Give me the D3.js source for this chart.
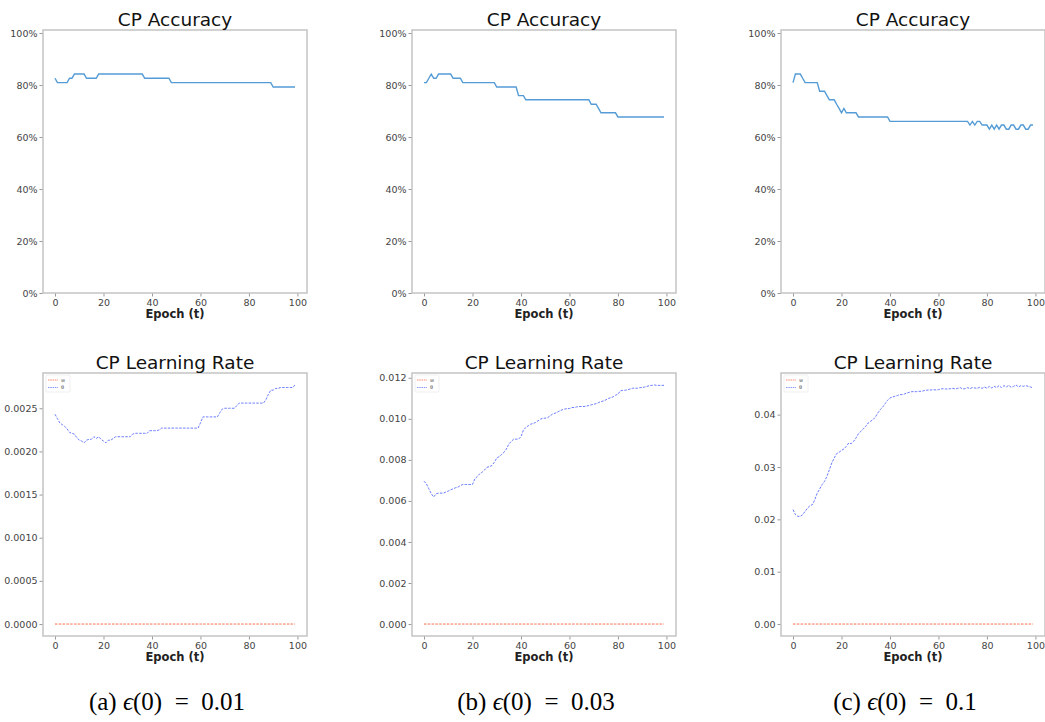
<!DOCTYPE html>
<html>
<head>
<meta charset="utf-8">
<script src="https://cdn.jsdelivr.net/npm/d3@7"></script>
<style>
  body { margin: 0; background: #fff; }
  svg { display: block; }
  .tick text { font-family: "DejaVu Sans", sans-serif; font-size: 9.5px; fill: #444; }
  .tick line { stroke: #999; }
  .domain { display: none; }
</style>
</head>
<body>
<svg id="chart" width="1045" height="722"></svg>
<script>
// epochs 0..99
const epochs = d3.range(100);

// CP accuracy per panel (fraction)
const accA = [0.826,0.809,0.809,0.809,0.809,0.809,0.826,0.826,0.842,0.842,0.842,0.842,0.842,0.826,0.826,0.826,0.826,0.826,0.842,0.842,
  0.842,0.842,0.842,0.842,0.842,0.842,0.842,0.842,0.842,0.842,0.842,0.842,0.842,0.842,0.842,0.842,0.842,0.826,0.826,0.826,
  0.826,0.826,0.826,0.826,0.826,0.826,0.826,0.826,0.809,0.809,0.809,0.809,0.809,0.809,0.809,0.809,0.809,0.809,0.809,0.809,
  0.809,0.809,0.809,0.809,0.809,0.809,0.809,0.809,0.809,0.809,0.809,0.809,0.809,0.809,0.809,0.809,0.809,0.809,0.809,0.809,
  0.809,0.809,0.809,0.809,0.809,0.809,0.809,0.809,0.809,0.809,0.792,0.792,0.792,0.792,0.792,0.792,0.792,0.792,0.792,0.792];
const accB = [0.809,0.809,0.826,0.842,0.826,0.826,0.842,0.842,0.842,0.842,0.842,0.842,0.826,0.826,0.826,0.826,0.809,0.809,0.809,0.809,
  0.809,0.809,0.809,0.809,0.809,0.809,0.809,0.809,0.809,0.809,0.792,0.792,0.792,0.792,0.792,0.792,0.792,0.792,0.792,0.759,
  0.759,0.759,0.743,0.743,0.743,0.743,0.743,0.743,0.743,0.743,0.743,0.743,0.743,0.743,0.743,0.743,0.743,0.743,0.743,0.743,
  0.743,0.743,0.743,0.743,0.743,0.743,0.743,0.743,0.743,0.726,0.726,0.726,0.710,0.693,0.693,0.693,0.693,0.693,0.693,0.693,
  0.677,0.677,0.677,0.677,0.677,0.677,0.677,0.677,0.677,0.677,0.677,0.677,0.677,0.677,0.677,0.677,0.677,0.677,0.677,0.677];
const accC = [0.809,0.842,0.842,0.842,0.826,0.809,0.809,0.809,0.809,0.809,0.809,0.776,0.776,0.776,0.759,0.743,0.743,0.743,0.726,0.710,
  0.693,0.710,0.693,0.693,0.693,0.693,0.693,0.677,0.677,0.677,0.677,0.677,0.677,0.677,0.677,0.677,0.677,0.677,0.677,0.677,
  0.660,0.660,0.660,0.660,0.660,0.660,0.660,0.660,0.660,0.660,0.660,0.660,0.660,0.660,0.660,0.660,0.660,0.660,0.660,0.660,
  0.660,0.660,0.660,0.660,0.660,0.660,0.660,0.660,0.660,0.660,0.660,0.660,0.660,0.646,0.660,0.646,0.660,0.660,0.646,0.646,
  0.646,0.630,0.646,0.630,0.646,0.630,0.646,0.646,0.630,0.630,0.646,0.646,0.630,0.630,0.646,0.646,0.630,0.630,0.646,0.646];

// CP learning rate, theta (blue) per panel
const lrThetaA = [0.00243,0.00238,0.00233,0.00231,0.00229,0.00226,0.00222,0.00221,0.00220,0.00216,0.00213,0.00212,0.00210,0.00213,0.00214,0.00214,0.00217,0.00215,0.00217,0.00214,
  0.00212,0.00210,0.00213,0.00213,0.00215,0.00217,0.00217,0.00217,0.00217,0.00217,0.00217,0.00217,0.00220,0.00221,0.00221,0.00221,0.00221,0.00221,0.00221,0.00224,
  0.00224,0.00224,0.00224,0.00225,0.00227,0.00227,0.00227,0.00227,0.00227,0.00227,0.00227,0.00227,0.00227,0.00227,0.00227,0.00227,0.00227,0.00227,0.00227,0.00227,
  0.00233,0.00240,0.00240,0.00240,0.00240,0.00240,0.00240,0.00240,0.00245,0.00249,0.00250,0.00250,0.00250,0.00250,0.00250,0.00253,0.00256,0.00256,0.00256,0.00256,
  0.00256,0.00256,0.00256,0.00256,0.00256,0.00256,0.00256,0.00260,0.00266,0.00271,0.00271,0.00273,0.00273,0.00274,0.00274,0.00274,0.00274,0.00274,0.00274,0.00277];
const lrThetaB = [0.00696,0.00683,0.00659,0.00635,0.00619,0.00635,0.00638,0.00638,0.00638,0.00643,0.00648,0.00654,0.00659,0.00664,0.00667,0.00675,0.00680,0.00680,0.00680,0.00680,
  0.00680,0.00708,0.00719,0.00732,0.00740,0.00751,0.00764,0.00767,0.00772,0.00788,0.00809,0.00816,0.00826,0.00837,0.00853,0.00877,0.00890,0.00901,0.00901,0.00901,
  0.00913,0.00945,0.00958,0.00966,0.00974,0.00977,0.00982,0.00990,0.00998,0.01003,0.01003,0.01006,0.01014,0.01023,0.01027,0.01032,0.01039,0.01044,0.01047,0.01050,
  0.01050,0.01055,0.01055,0.01058,0.01060,0.01060,0.01060,0.01062,0.01065,0.01068,0.01071,0.01074,0.01079,0.01084,0.01087,0.01092,0.01099,0.01103,0.01107,0.01115,
  0.01120,0.01136,0.01139,0.01139,0.01142,0.01145,0.01149,0.01149,0.01149,0.01152,0.01152,0.01155,0.01158,0.01162,0.01163,0.01165,0.01163,0.01163,0.01163,0.01163];
const lrThetaC = [0.02185,0.02089,0.02057,0.02057,0.02089,0.02153,0.02216,0.02261,0.02280,0.02376,0.02503,0.02579,0.02662,0.02726,0.02821,0.02949,0.03076,0.03172,0.03255,0.03280,
  0.03318,0.03344,0.03395,0.03458,0.03446,0.03490,0.03554,0.03637,0.03681,0.03726,0.03777,0.03840,0.03872,0.03904,0.03955,0.04032,0.04095,0.04146,0.04210,0.04274,
  0.04318,0.04337,0.04350,0.04363,0.04382,0.04382,0.04395,0.04414,0.04426,0.04439,0.04439,0.04439,0.04446,0.04446,0.04458,0.04465,0.04471,0.04471,0.04477,0.04471,
  0.04477,0.04490,0.04496,0.04490,0.04490,0.04496,0.04503,0.04490,0.04503,0.04516,0.04490,0.04496,0.04516,0.04496,0.04516,0.04509,0.04503,0.04522,0.04503,0.04528,
  0.04503,0.04541,0.04509,0.04541,0.04516,0.04554,0.04516,0.04554,0.04528,0.04560,0.04522,0.04541,0.04567,0.04528,0.04554,0.04541,0.04554,0.04541,0.04528,0.04509];

// CP learning rate, w (red) - flat at zero in all panels
const lrW = [0,0,0,0,0,0,0,0,0,0,0,0,0,0,0,0,0,0,0,0,0,0,0,0,0,0,0,0,0,0,0,0,0,0,0,0,0,0,0,0,0,0,0,0,0,0,0,0,0,0,
  0,0,0,0,0,0,0,0,0,0,0,0,0,0,0,0,0,0,0,0,0,0,0,0,0,0,0,0,0,0,0,0,0,0,0,0,0,0,0,0,0,0,0,0,0,0,0,0,0,0];

// tick labels
const xTicks = [0, 20, 40, 60, 80, 100];
const accTicks = [0, 0.2, 0.4, 0.6, 0.8, 1.0];
const lrTicksA = [0, 0.0005, 0.0010, 0.0015, 0.0020, 0.0025];
const lrTicksB = [0, 0.002, 0.004, 0.006, 0.008, 0.010, 0.012];
const lrTicksC = [0, 0.01, 0.02, 0.03, 0.04];

const captionLetters = ["(a)", "(b)", "(c)"];
const captionValues = ["0.01", "0.03", "0.1"];
const legendLabels = ["w", "θ"];

const panels = [
  { acc: accA, theta: lrThetaA, ticks: lrTicksA, fmt: ".4f" },
  { acc: accB, theta: lrThetaB, ticks: lrTicksB, fmt: ".3f" },
  { acc: accC, theta: lrThetaC, ticks: lrTicksC, fmt: ".2f" }
];

const svg = d3.select("#chart");
const boxW = 264;
const lefts = [43, 412, 781];
const top1 = 30, bot1 = 293;
const top2 = 373, bot2 = 636;

function frame(g, left, top, bottom) {
  g.append("rect")
    .attr("x", left).attr("y", top)
    .attr("width", boxW).attr("height", bottom - top)
    .attr("fill", "none")
    .attr("stroke", "#c4c4c4")
    .attr("stroke-width", 1.5);
}

function titleText(g, x, y, txt) {
  g.append("text")
    .attr("x", x).attr("y", y)
    .attr("text-anchor", "middle")
    .attr("font-family", "DejaVu Sans, sans-serif")
    .attr("font-size", 18.5)
    .attr("fill", "#111")
    .text(txt);
}

function xLabel(g, x, y) {
  g.append("text")
    .attr("x", x).attr("y", y)
    .attr("text-anchor", "middle")
    .attr("font-family", "DejaVu Sans, sans-serif")
    .attr("font-weight", "bold")
    .attr("font-size", 11.5)
    .attr("fill", "#222")
    .text("Epoch (t)");
}

panels.forEach((p, i) => {
  const left = lefts[i];
  const cx = left + boxW / 2;
  const x = d3.scaleLinear().domain([-4.95, 103.95]).range([left, left + boxW]);

  // ---- top row: accuracy ----
  const gTop = svg.append("g");
  const yAcc = d3.scaleLinear().domain([0, 1.0115]).range([bot1, top1]);

  gTop.append("g")
    .attr("transform", "translate(0," + bot1 + ")")
    .call(d3.axisBottom(x).tickValues(xTicks).tickSize(3.5).tickPadding(2.5));
  gTop.append("g")
    .attr("transform", "translate(" + left + ",0)")
    .call(d3.axisLeft(yAcc).tickValues(accTicks).tickFormat(d3.format(".0%")).tickSize(3.5).tickPadding(2));

  gTop.append("path")
    .datum(p.acc)
    .attr("fill", "none")
    .attr("stroke", "#559cd6")
    .attr("stroke-width", 1.4)
    .attr("d", d3.line().x((d, j) => x(epochs[j])).y(d => yAcc(d)));

  frame(gTop, left, top1, bot1);
  titleText(gTop, cx, 26, "CP Accuracy");
  xLabel(gTop, cx, 318);

  // ---- bottom row: learning rate ----
  const gBot = svg.append("g");
  const lo = d3.min([d3.min(lrW), d3.min(p.theta)]);
  const hi = d3.max([d3.max(lrW), d3.max(p.theta)]);
  const pad = (hi - lo) * 0.05;
  const yLr = d3.scaleLinear().domain([lo - pad, hi + pad]).range([bot2, top2]);

  gBot.append("g")
    .attr("transform", "translate(0," + bot2 + ")")
    .call(d3.axisBottom(x).tickValues(xTicks).tickSize(3.5).tickPadding(2.5));
  gBot.append("g")
    .attr("transform", "translate(" + left + ",0)")
    .call(d3.axisLeft(yLr).tickValues(p.ticks).tickFormat(d3.format(p.fmt)).tickSize(3.5).tickPadding(2));

  const lr = d3.line().x((d, j) => x(epochs[j])).y(d => yLr(d));
  gBot.append("path")
    .datum(lrW)
    .attr("fill", "none")
    .attr("stroke", "#ff6a48")
    .attr("stroke-width", 1)
    .attr("stroke-dasharray", "2.5,1.3")
    .attr("d", lr);
  gBot.append("path")
    .datum(p.theta)
    .attr("fill", "none")
    .attr("stroke", "#6a7cff")
    .attr("stroke-width", 1)
    .attr("stroke-dasharray", "2.5,1.3")
    .attr("d", lr);

  // legend
  const lg = gBot.append("g").attr("transform", "translate(" + (left + 3) + "," + (top2 + 2) + ")");
  lg.append("rect").attr("width", 24).attr("height", 17)
    .attr("fill", "#fff").attr("stroke", "#e4e4e4").attr("stroke-width", 0.6).attr("rx", 1);
  ["#ff6a48", "#6a7cff"].forEach((c, k) => {
    lg.append("line")
      .attr("x1", 2).attr("x2", 12)
      .attr("y1", 5 + k * 7.5).attr("y2", 5 + k * 7.5)
      .attr("stroke", c).attr("stroke-width", 0.8).attr("stroke-dasharray", "1.5,0.8");
    lg.append("text")
      .attr("x", 15).attr("y", 6.8 + k * 7.5)
      .attr("font-family", "DejaVu Sans, sans-serif")
      .attr("font-size", 5)
      .attr("fill", "#555")
      .text(legendLabels[k]);
  });

  frame(gBot, left, top2, bot2);
  titleText(gBot, cx, 369, "CP Learning Rate");
  xLabel(gBot, cx, 661);

  // caption below each column
  const cap = svg.append("text")
    .attr("x", cx - 8).attr("y", 710)
    .attr("text-anchor", "middle")
    .attr("font-family", "Liberation Serif, DejaVu Serif, serif")
    .attr("font-size", 25)
    .attr("fill", "#000")
    .attr("xml:space", "preserve");
  cap.append("tspan").text(captionLetters[i] + " ");
  cap.append("tspan").attr("font-style", "italic").text("ϵ");
  cap.append("tspan").text("(0)  =  " + captionValues[i]);
});
</script>
</body>
</html>
